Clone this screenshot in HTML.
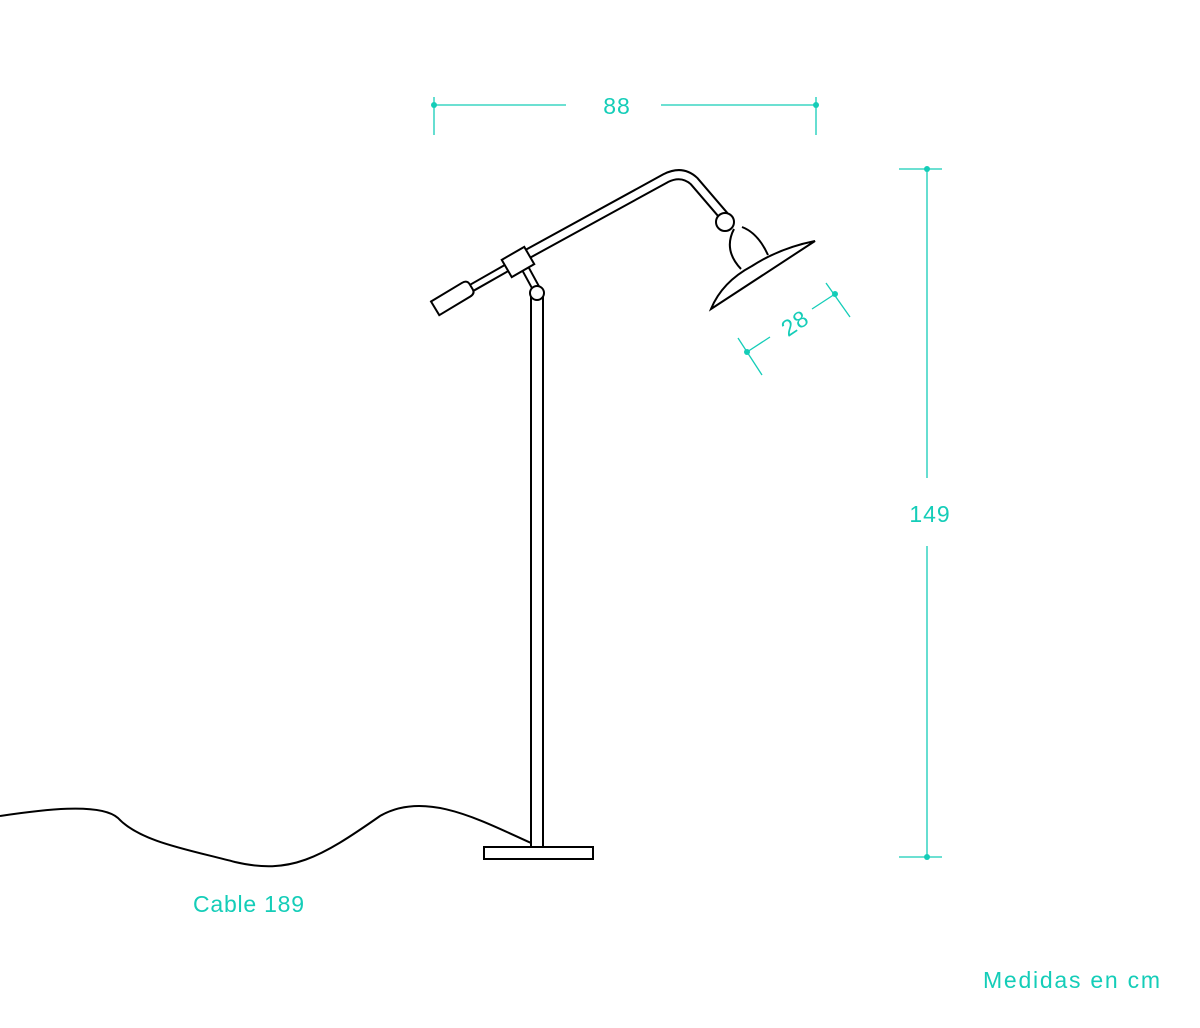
<!DOCTYPE html>
<html><head><meta charset="utf-8"><style>
html,body{margin:0;padding:0;background:#fff;width:1200px;height:1028px;overflow:hidden}
svg{display:block}
text{font-family:"Liberation Sans",sans-serif;fill:#14cdb8;letter-spacing:1px}
</style></head><body>
<svg width="1200" height="1028" viewBox="0 0 1200 1028" xmlns="http://www.w3.org/2000/svg">
<g stroke="#14cdb8" stroke-width="1.3" fill="none">
  <line x1="434" y1="105" x2="566" y2="105"/>
  <line x1="661" y1="105" x2="816" y2="105"/>
  <line x1="434" y1="97" x2="434" y2="135"/>
  <line x1="816" y1="97" x2="816" y2="135"/>
  <line x1="927" y1="169" x2="927" y2="478"/>
  <line x1="927" y1="546" x2="927" y2="857"/>
  <line x1="899" y1="169" x2="942" y2="169"/>
  <line x1="899" y1="857" x2="942" y2="857"/>
  <line x1="747" y1="352" x2="770" y2="337"/>
  <line x1="812" y1="309" x2="835" y2="294"/>
  <line x1="738" y1="338" x2="762" y2="375"/>
  <line x1="826" y1="283" x2="850" y2="317"/>
</g>
<g fill="#14cdb8">
  <circle cx="434" cy="105" r="3"/><circle cx="816" cy="105" r="3"/>
  <circle cx="927" cy="169" r="3"/><circle cx="927" cy="857" r="3"/>
  <circle cx="747" cy="352" r="3"/><circle cx="835" cy="294" r="3"/>
</g>
<text x="617" y="114" font-size="23" text-anchor="middle">88</text>
<text x="930" y="522" font-size="23" text-anchor="middle">149</text>
<text x="795" y="331" font-size="23" text-anchor="middle" transform="rotate(-34 795 323)">28</text>
<text x="249" y="912" font-size="23" text-anchor="middle" textLength="112">Cable 189</text>
<text x="983" y="988" font-size="23" textLength="178">Medidas en cm</text>

<g stroke="#000" stroke-width="2" fill="none">
  <path d="M0,816 C40,810 100,802 118,818 C140,842 190,850 235,862 C290,875 320,858 380,816 C425,790 480,820 531,843"/>
</g>
<rect x="531" y="296" width="12" height="551" fill="#fff" stroke="#000" stroke-width="2"/>
<rect x="484" y="847" width="109" height="12" fill="#fff" stroke="#000" stroke-width="2"/>
<path d="M525,268 L537,290" stroke="#000" stroke-width="9" stroke-linecap="butt"/>
<path d="M525,268 L537,290" stroke="#fff" stroke-width="5"/>
<circle cx="537" cy="293" r="7" fill="#fff" stroke="#000" stroke-width="2"/>
<path d="M468,290 L510,266" stroke="#000" stroke-width="9"/>
<path d="M466,291 L510,266" stroke="#fff" stroke-width="5"/>
<g transform="translate(454,297) rotate(-31)">
  <path d="M-22,-8 L14,-8 Q20,-8 20,-3 L20,3 Q20,8 14,8 L-22,8 Z" fill="#fff" stroke="#000" stroke-width="2"/>
</g>
<path d="M522,257 L666,178 Q682,170 694,181 L724,216" stroke="#000" stroke-width="11" fill="none" stroke-linejoin="round"/>
<path d="M522,257 L666,178 Q682,170 694,181 L724,216" stroke="#fff" stroke-width="7" fill="none" stroke-linejoin="round"/>
<g transform="translate(518,262) rotate(-30)">
  <rect x="-13" y="-10" width="26" height="20" fill="#fff" stroke="#000" stroke-width="2"/>
</g>
<path d="M734,229 Q723,250 741,269" stroke="#000" stroke-width="2" fill="none"/>
<path d="M742,227 Q758,233 768,255" stroke="#000" stroke-width="2" fill="none"/>
<circle cx="725" cy="222" r="9" fill="#fff" stroke="#000" stroke-width="2"/>
<path d="M711,309 Q722,282 752,266 Q780,248 815,241 Z" fill="#fff" stroke="#000" stroke-width="2" stroke-linejoin="miter"/>
</svg>
</body></html>
